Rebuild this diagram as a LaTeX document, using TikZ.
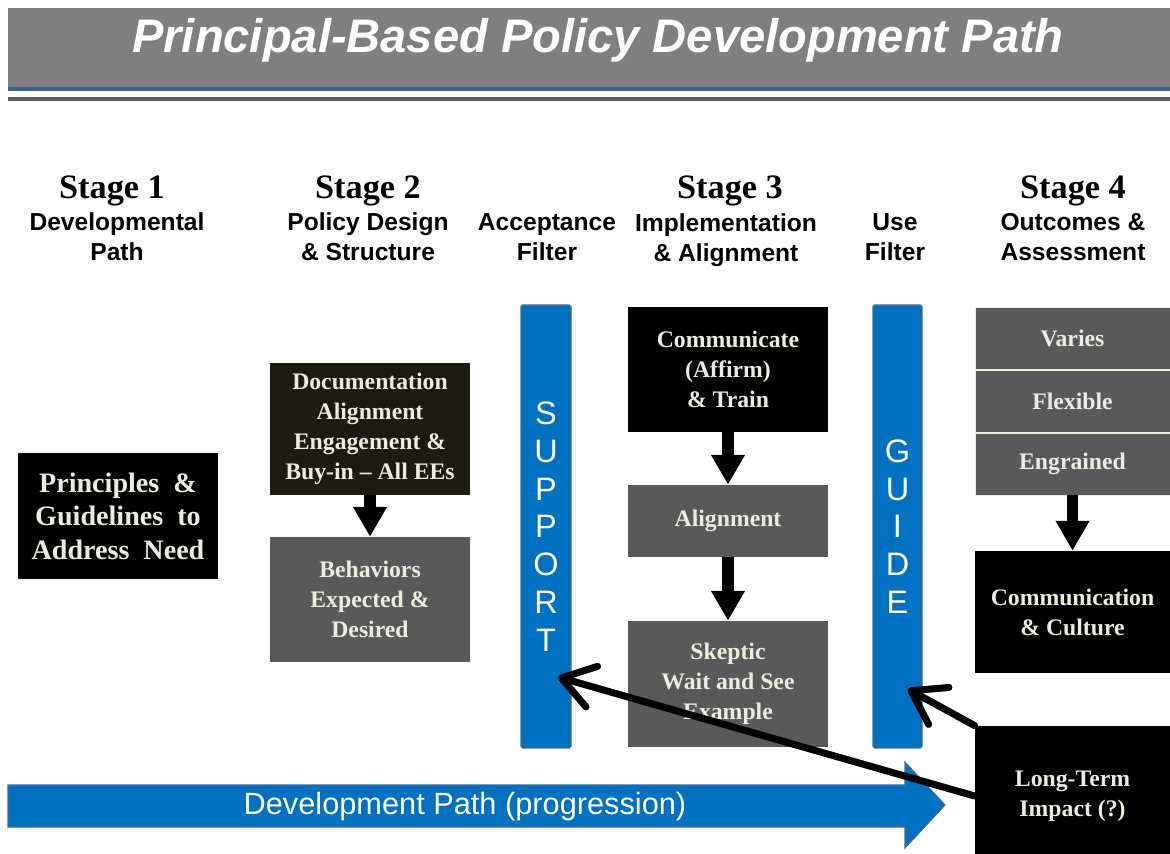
\documentclass[tikz,border=0pt]{standalone}
\usepackage{fontspec}
\setmainfont{Liberation Serif}
\setsansfont{Liberation Sans}
\usetikzlibrary{arrows.meta}
\definecolor{bandgray}{HTML}{7F7F7F}
\definecolor{ruleblue}{HTML}{3A5F8C}
\definecolor{rulegray}{HTML}{5F5F5F}
\definecolor{barblue}{HTML}{0070C0}
\definecolor{baredge}{HTML}{41699A}
\definecolor{boxgray}{HTML}{595959}
\definecolor{boxdark}{HTML}{1D1B10}
\definecolor{offwhite}{HTML}{EEECE1}

\tikzset{
  stagehead/.style={font=\bfseries\fontsize{19.5}{22}\selectfont, inner sep=0pt},
  subhead/.style={font=\sffamily\bfseries\fontsize{14}{17}\selectfont, align=center, inner sep=0pt},
  darkbox/.style={fill=black, text=offwhite, font=\bfseries\fontsize{13.5}{17}\selectfont,
    align=center, minimum width=4cm, inner sep=0pt},
  graybox/.style={darkbox, fill=boxgray},
  filterbar/.style={fill=barblue, draw=baredge, line width=0.8pt, rounded corners=1pt,
    minimum width=1cm, minimum height=8.86cm, text=white,
    font=\sffamily\fontsize{18.5}{21.5}\selectfont, align=center, inner sep=0pt},
  blockarrow/.style={line width=6.3pt, -{Triangle[width=18.2pt,length=17pt]}},
  impactarrow/.style={line width=4pt, line cap=round, -{Straight Barb[length=18pt,width=24pt,round]}}
}

\begin{document}
\begin{tikzpicture}[x=0.02cm, y=-0.02cm]
\useasboundingbox (0,0) rectangle (1170,853);

% title band
\fill[bandgray] (8,8) rectangle (1170,87);
\fill[ruleblue] (8,87) rectangle (1170,91);
\fill[rulegray] (8,97) rectangle (1170,101);
\node[font=\sffamily\bfseries\itshape\fontsize{26.8}{30}\selectfont, text=white] (title) at (598,40)
  {Principal-Based Policy Development Path};

% stage headings
\node[stagehead] (st1) at (112,191) {Stage 1};
\node[stagehead] (st2) at (368,191) {Stage 2};
\node[stagehead] (st3) at (730,191) {Stage 3};
\node[stagehead] (st4) at (1073,191) {Stage 4};
\node[subhead] (sub1) at (117,237) {Developmental\\Path};
\node[subhead] (sub2) at (368,237) {Policy Design\\\& Structure};
\node[subhead] (acc) at (547,237) {Acceptance\\Filter};
\node[subhead] (sub3) at (726,240) {Implementation\\\& Alignment};
\node[subhead] (use) at (895,237) {Use\\Filter};
\node[subhead] (sub4) at (1073,237) {Outcomes \&\\Assessment};

% stage 1
\node[darkbox, minimum height=2.52cm, font=\bfseries\fontsize{16}{19}\selectfont] (princ) at (118,516)
  {Principles \ \&\\Guidelines \ to\\Address \ Need};

% stage 2
\node[darkbox, fill=boxdark, minimum height=2.64cm] (doc) at (370,429)
  {Documentation\\Alignment\\Engagement \&\\Buy-in -- All EEs};
\node[graybox, minimum height=2.5cm] (behav) at (370,599.5)
  {Behaviors\\Expected \&\\Desired};
\draw[blockarrow] (doc.south) -- (behav.north);

% filters
\node[filterbar] (support) at (546,526.5) {S\\U\\P\\P\\O\\R\\T};
\node[filterbar, minimum width=0.98cm] (guide) at (897.5,526.5) {G\\U\\I\\D\\E};

% stage 3
\node[darkbox, minimum height=2.5cm] (comm) at (728,369.5) {Communicate\\(Affirm)\\\& Train};
\node[graybox, minimum height=1.44cm] (align) at (728,521) {Alignment};
\node[graybox, minimum height=2.52cm] (skeptic) at (728,684) {Skeptic\\Wait and See\\Example};
\draw[blockarrow] (comm.south) -- (align.north);
\draw[blockarrow] (align.south) -- (skeptic.north);

% stage 4
\node[graybox, minimum width=3.9cm, minimum height=1.24cm, draw=offwhite, line width=0.5pt] (varies) at (1072.5,338) {Varies};
\node[graybox, minimum width=3.9cm, minimum height=1.24cm, draw=offwhite, line width=0.5pt] (flex) at (1072.5,401) {Flexible};
\node[graybox, minimum width=3.9cm, minimum height=1.24cm, draw=offwhite, line width=0.5pt] (engr) at (1072.5,464) {Engrained};
\node[darkbox, minimum width=3.9cm, minimum height=2.44cm] (cult) at (1072.5,612) {Communication\\\& Culture};
\draw[blockarrow] (engr.south) -- (cult.north);
\node[darkbox, minimum width=3.9cm, minimum height=2.8cm] (impact) at (1072.5,796) {Long-Term\\Impact (?)};

% development path
\fill[barblue, draw=baredge, line width=0.6pt] (8,785) -- (905,785) -- (905,762) -- (945,805)
  -- (905,848) -- (905,827) -- (8,827) -- cycle;
\node[font=\sffamily\fontsize{17.5}{20}\selectfont, text=white] (devpath) at (465,807)
  {Development Path (progression)};

% long-term feedback
\coordinate (suphit) at (558,677);
\coordinate (guidehit) at (908,689);
\draw[impactarrow] (impact.west) -- (suphit);
\draw[impactarrow] (impact.north west) -- (guidehit);
\end{tikzpicture}
\end{document}
